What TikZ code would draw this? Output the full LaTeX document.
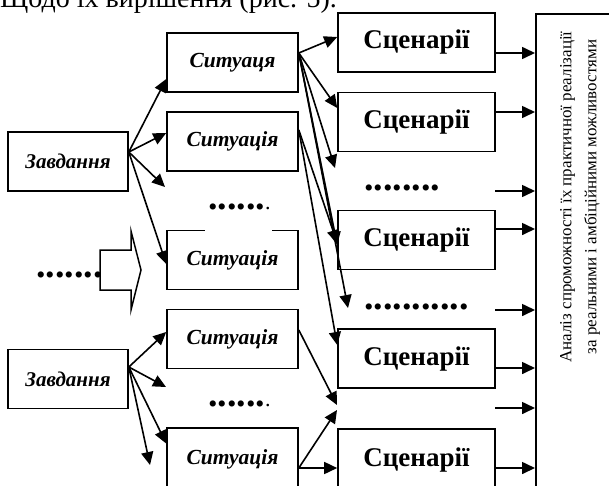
\documentclass[tikz,border=0pt]{standalone}
\usepackage{fontspec}
\setmainfont{Liberation Serif}
\usetikzlibrary{arrows.meta}

\begin{document}
\begin{tikzpicture}[x=1pt,y=-1pt,
	box/.style={draw, line width=1.6pt, inner sep=0pt, minimum height=59pt},
	task/.style={box, minimum width=120pt, font=\fontsize{21}{21}\selectfont\bfseries\itshape},
	sit/.style={box, minimum width=131pt, font=\fontsize{21.5}{21.5}\selectfont\bfseries\itshape},
	scen/.style={box, minimum width=157pt, font=\fontsize{27}{27}\selectfont\bfseries},
	dots/.style={anchor=base west, inner sep=0pt, font=\fontsize{38}{38}\selectfont\bfseries},
	arr/.style={line width=1.6pt, -{Triangle[length=13pt, width=12pt]}}]
		\useasboundingbox (0,0) rectangle (609,485);
		\node[anchor=base west, inner sep=0pt, font=\fontsize{28}{28}\selectfont] (head) at (0,7) {Щодо їх вирішення (рис. 5).};
		\node[task] (zav1) at (68,161.5) {Завдання};
		\node[task] (zav2) at (68,379) {Завдання};
		\node[sit] (sit1) at (232.5,62.5) {Ситуаця};
		\node[sit] (sit2) at (232.5,141.5) {Ситуація};
		\node[sit] (sit3) at (232.5,260) {Ситуація};
		\node[sit] (sit4) at (232.5,339) {Ситуація};
		\node[sit, minimum height=62pt] (sit5) at (232.5,459) {Ситуація};
		\fill[white] (205,228) rectangle (272,232);
		\node[dots] (d1) at (208,209.5) {......{\mdseries\fontsize{22}{22}\selectfont.}};
		\node[dots] (d2) at (36,277.5) {.......};
		\node[dots] (d3) at (208,406.5) {......{\mdseries\fontsize{22}{22}\selectfont.}};
		\node[dots] (d4) at (364,190.5) {........};
		\node[dots] (d5) at (364,309.5) {...........};
		\node[scen] (sc1) at (416.5,42.5) {Сценарії};
		\node[scen] (sc2) at (416.5,122) {Сценарії};
		\node[scen] (sc3) at (416.5,240) {Сценарії};
		\node[scen] (sc4) at (416.5,358.5) {Сценарії};
		\node[scen, minimum height=62pt] (sc5) at (416.5,460) {Сценарії};
		\node[draw, line width=1.6pt, minimum width=90pt, minimum height=480pt, anchor=north west] (big) at (535,13) {};
		\node[rotate=90, align=center, font=\fontsize{17}{25}\selectfont] (anal) at (580,197) {Аналіз спроможності їх практичної реалізації\\за реальними і амбіційними можливостями};
		\draw[line width=1.5pt] (100,250) -- (131,250) -- (131,231) -- (141,270) -- (131,310) -- (131,290) -- (100,290) -- cycle;
		\coordinate (f1) at (165,187);
		\coordinate (f2) at (166,387);
		\coordinate (f3) at (150,465);
		\coordinate (f4) at (335,168);
		\coordinate (f5) at (348,308);
		\coordinate (f6) at (337,405);
		\coordinate (f7) at (337,410);
		\draw[arr] ([yshift=9.5pt]zav1.east) -- ([yshift=-16.5pt]sit1.west);
		\draw[arr] ([yshift=9.5pt]zav1.east) -- ([yshift=8.5pt]sit2.west);
		\draw[arr] ([yshift=9.5pt]zav1.east) -- (f1);
		\draw[arr] ([yshift=9.5pt]zav1.east) -- ([yshift=-4pt]sit3.west);
		\draw[arr] ([yshift=12pt]zav2.east) -- ([yshift=7pt]sit4.west);
		\draw[arr] ([yshift=12pt]zav2.east) -- (f2);
		\draw[arr] ([yshift=12pt]zav2.east) -- ([yshift=15.5pt]sit5.west);
		\draw[arr] ([yshift=12pt]zav2.east) -- (f3);
		\draw[arr] ([yshift=9.5pt]sit1.east) -- ([yshift=5.5pt]sc1.west);
		\draw[arr] ([yshift=9.5pt]sit1.east) -- ([yshift=14pt]sc2.west);
		\draw[arr] ([yshift=9.5pt]sit1.east) -- (f4);
		\draw[arr] ([yshift=9.5pt]sit1.east) -- ([yshift=-5pt]sc3.west);
		\draw[arr] ([yshift=9.5pt]sit1.east) -- (f5);
		\draw[arr] ([yshift=11.5pt]sit2.east) -- ([yshift=-3pt]sc3.west);
		\draw[arr] ([yshift=11.5pt]sit2.east) -- ([yshift=13.5pt]sc4.west);
		\draw[arr] ([yshift=9pt]sit4.east) -- (f6);
		\draw[arr] ([yshift=-9pt]sit5.east) -- (f7);
		\draw[arr] ([yshift=-9pt]sit5.east) -- ([yshift=-8pt]sc5.west);
		\draw[arr] ([yshift=-10.5pt]sc1.east) coordinate (r1) -- (r1 -| big.west);
		\draw[arr] ([yshift=10pt]sc2.east) coordinate (r2) -- (r2 -| big.west);
		\draw[arr] ([yshift=11pt]sc3.east) coordinate (r3) -- (r3 -| big.west);
		\draw[arr] ([yshift=-9.5pt]sc4.east) coordinate (r4) -- (r4 -| big.west);
		\draw[arr] ([yshift=-8pt]sc5.east) coordinate (r5) -- (r5 -| big.west);
		\coordinate (g1) at (495,191);
		\coordinate (g2) at (495,310);
		\coordinate (g3) at (495,408);
		\draw[arr] (g1) -- (g1 -| big.west);
		\draw[arr] (g2) -- (g2 -| big.west);
		\draw[arr] (g3) -- (g3 -| big.west);
\end{tikzpicture}
\end{document}
